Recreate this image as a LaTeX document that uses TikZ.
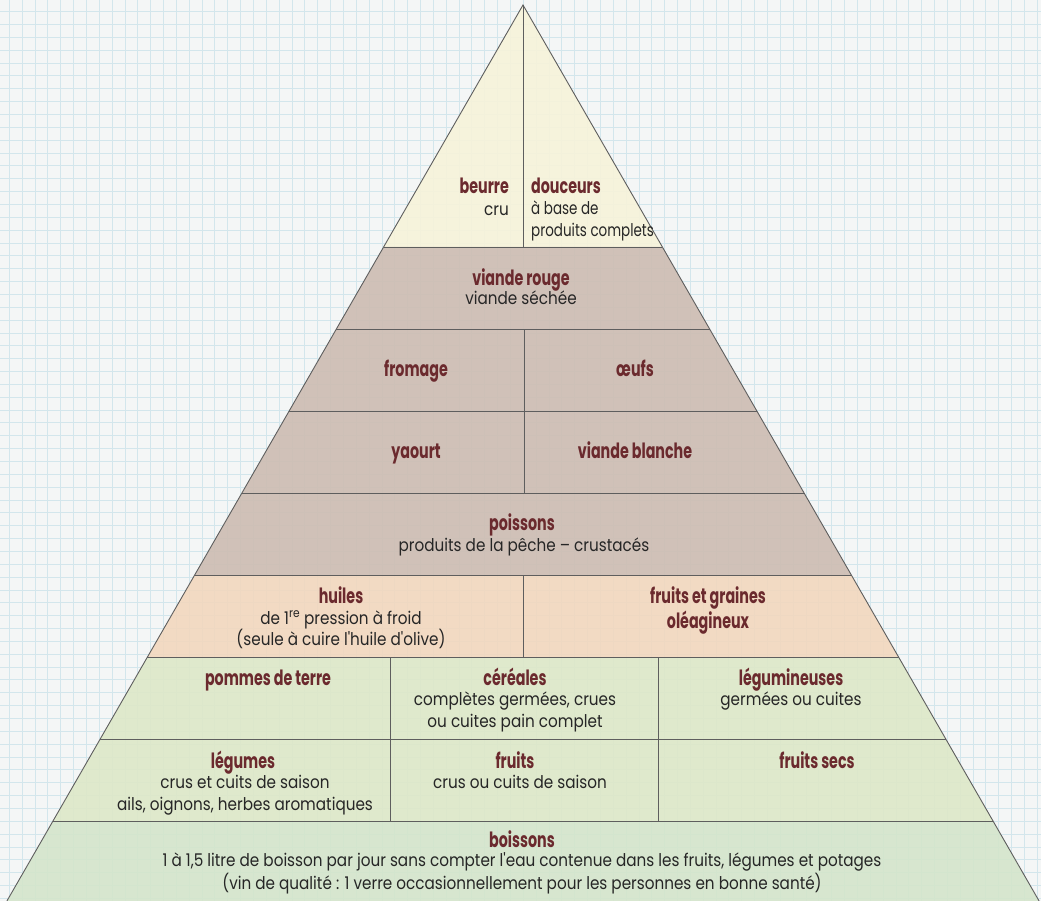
\documentclass[tikz,border=0pt]{standalone}
\usepackage{fontspec}
\setmainfont{Poppins}[FakeStretch=0.87,Ligatures=TeXOff]
\newfontfamily\narrowf{Poppins}[FakeStretch=0.77,Ligatures=TeXOff]
\newfontfamily\titlef{Poppins}[FakeStretch=0.68]
\definecolor{bgc}{HTML}{F4F6F6}
\definecolor{gridc}{HTML}{D3E6EC}
\definecolor{creamc}{HTML}{F7F3DA}
\definecolor{brownc}{HTML}{CDBCB2}
\definecolor{peachc}{HTML}{F2D7BE}
\definecolor{greenc}{HTML}{DDE8C8}
\definecolor{green2c}{HTML}{D4E5CB}
\definecolor{linec}{HTML}{5E5E5E}
\definecolor{tc}{HTML}{6B2A2E}
\definecolor{bc}{HTML}{262626}
\tikzset{
  title/.style={font=\titlef\bfseries\fontsize{21}{25}\selectfont, text=tc, inner sep=0pt, anchor=base},
  body/.style={font=\fontsize{17.5}{23}\selectfont, text=bc, inner sep=0pt, anchor=base},
  narrowbody/.style={body, font=\narrowf\fontsize{17.5}{23}\selectfont},
  band/.style={fill opacity=0.9},
  sep/.style={draw=linec, line width=0.9pt},
}
\begin{document}
\begin{tikzpicture}[x=1pt,y=-1pt]
\useasboundingbox (0,0) rectangle (1041,901);
\fill[bgc] (0,0) rectangle (1041,901);
\foreach \i in {0,...,81} {
  \draw[gridc, line width=0.9pt] ({9.3+12.85*\i},0) -- ({9.3+12.85*\i},901);
}
\foreach \i in {0,...,70} {
  \draw[gridc, line width=0.9pt] (0,{11.7+12.85*\i}) -- (1041,{11.7+12.85*\i});
}
% pyramid corner points
\coordinate (A) at (523,5);
\coordinate (L1) at (383.6,247); \coordinate (R1) at (662.4,247);
\coordinate (L2) at (336.4,329); \coordinate (R2) at (709.6,329);
\coordinate (L3) at (289.1,411); \coordinate (R3) at (756.9,411);
\coordinate (L4) at (241.9,493); \coordinate (R4) at (804.1,493);
\coordinate (L5) at (194.7,575); \coordinate (R5) at (851.3,575);
\coordinate (L6) at (147.4,657); \coordinate (R6) at (898.6,657);
\coordinate (L7) at (100.2,739); \coordinate (R7) at (945.8,739);
\coordinate (L8) at (53,821);    \coordinate (R8) at (993,821);
\coordinate (L9) at (6.9,901);   \coordinate (R9) at (1039.1,901);
% fills
\fill[creamc, band] (A) -- (R1) -- (L1) -- cycle;
\fill[brownc, band] (L1) -- (R1) -- (R5) -- (L5) -- cycle;
\fill[peachc, band] (L5) -- (R5) -- (R6) -- (L6) -- cycle;
\fill[greenc, band] (L6) -- (R6) -- (R8) -- (L8) -- cycle;
\fill[green2c, band] (L8) -- (R8) -- (R9) -- (L9) -- cycle;
% outline and separators
\draw[sep, line join=miter] (L9) -- (A) -- (R9);
\foreach \k in {1,...,8} { \draw[sep] (L\k) -- (R\k); }
\draw[sep] (A) -- (523,247);
\draw[sep] (524,329) -- (524,493);
\draw[sep] (523,575) -- (523,657);
\draw[sep] (390,657) -- (390,821);
\draw[sep] (658,657) -- (658,821);
% texts
\node[title, anchor=base east] (beurre) at (509,194) {beurre};
\node[body, anchor=base east] (cru) at (509,216) {cru};
\node[title, anchor=base west] (douceurs) at (531,194) {douceurs};
\node[narrowbody, anchor=base west] (d1) at (531,215) {à base de};
\node[narrowbody, anchor=base west] (d2) at (531,237) {produits complets};
\node[title] (vr) at (521,286) {viande rouge};
\node[body] (vs) at (521,305) {viande séchée};
\node[title] (fromage) at (416,376) {fromage};
\node[title] (oeufs) at (635,376) {œufs};
\node[title] (yaourt) at (416,458) {yaourt};
\node[title] (vb) at (635,458) {viande blanche};
\node[title] (poissons) at (522,530) {poissons};
\node[body] (pp) at (524,551) {produits de la pêche – crustacés};
\node[title] (huiles) at (341,603) {huiles};
\node[body] (h1) at (341,624) {de 1\textsuperscript{re} pression à froid};
\node[body] (h2) at (341,645) {(seule à cuire l'huile d'olive)};
\node[title] (fg1) at (708,603) {fruits et graines};
\node[title] (fg2) at (708,628) {oléagineux};
\node[title] (pdt) at (268,685) {pommes de terre};
\node[title] (cer) at (515,685) {céréales};
\node[body] (c1) at (515,705) {complètes germées, crues};
\node[body] (c2) at (515,727) {ou cuites pain complet};
\node[title] (leg) at (791,685) {légumineuses};
\node[body] (l1) at (791,705) {germées ou cuites};
\node[title] (lgm) at (243,768) {légumes};
\node[body] (lg1) at (245,788) {crus et cuits de saison};
\node[body] (lg2) at (245,810) {ails, oignons, herbes aromatiques};
\node[title] (fr) at (515,768) {fruits};
\node[body] (fr1) at (520,788) {crus ou cuits de saison};
\node[title] (fs) at (817,768) {fruits secs};
\node[title] (boi) at (522,847) {boissons};
\node[body] (b1) at (522,866) {1 à 1,5 litre de boisson par jour sans compter l'eau contenue dans les fruits, légumes et potages};
\node[body] (b2) at (522,889) {(vin de qualité : 1 verre occasionnellement pour les personnes en bonne santé)};
\end{tikzpicture}
\end{document}
